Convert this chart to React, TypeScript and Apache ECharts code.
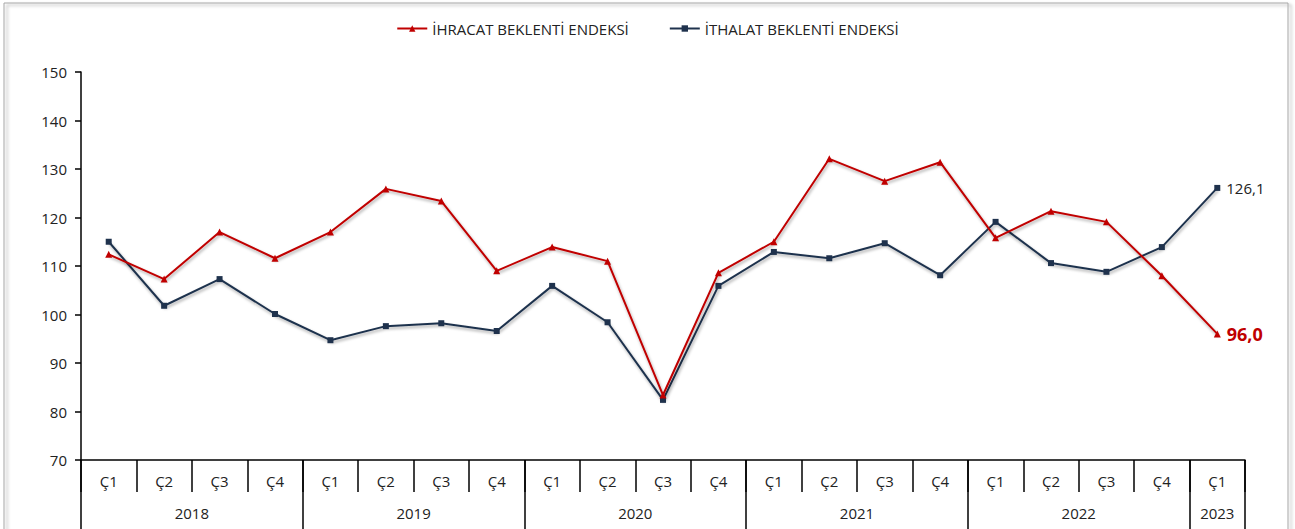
import React, { useEffect, useRef } from "react";
import * as echarts from "echarts";

const quarters = [
  "Ç1", "Ç2", "Ç3", "Ç4",
  "Ç1", "Ç2", "Ç3", "Ç4",
  "Ç1", "Ç2", "Ç3", "Ç4",
  "Ç1", "Ç2", "Ç3", "Ç4",
  "Ç1", "Ç2", "Ç3", "Ç4",
  "Ç1",
];
const years = ["2018", "2019", "2020", "2021", "2022", "2023"];
const quartersPerYear = [4, 4, 4, 4, 4, 1];

const exportValues = [
  112.4, 107.3, 117.0, 111.6,
  117.0, 125.9, 123.4, 109.0,
  113.9, 111.0, 83.4, 108.6,
  115.0, 132.1, 127.5, 131.4,
  115.8, 121.3, 119.1, 108.0,
  96.0,
];
const importValues = [
  115.0, 101.8, 107.3, 100.1,
  94.7, 97.6, 98.2, 96.6,
  105.9, 98.4, 82.4, 105.9,
  112.9, 111.6, 114.7, 108.1,
  119.1, 110.6, 108.8, 113.9,
  126.1,
];

const exportName = "İHRACAT BEKLENTİ ENDEKSİ";
const importName = "İTHALAT BEKLENTİ ENDEKSİ";

const RED = "#c00000";
const NAVY = "#1f324d";
const FONT = "Open Sans";

function fmt(v: number) {
  return v.toFixed(1).replace(".", ",");
}

export default function App() {
  const ref = useRef<HTMLDivElement>(null);
  useEffect(() => {
    if (!ref.current) return;
    const chart = echarts.init(ref.current, undefined, { renderer: "svg" });

    // year boundaries and centers derived from group sizes
    const boundaries: number[] = [0];
    const centers: number[] = [];
    let acc = 0;
    quartersPerYear.forEach((n) => {
      centers.push(acc + n / 2);
      acc += n;
      boundaries.push(acc);
    });

    const lastIdx = exportValues.length - 1;
    const mkData = (vals: number[], label: any) =>
      vals.map((v, i) =>
        i === lastIdx ? { value: v, label: { show: true, ...label } } : v
      );

    const lineShadow = {
      shadowColor: "rgba(0,0,0,0.35)",
      shadowBlur: 3,
      shadowOffsetX: 1,
      shadowOffsetY: 2,
    };

    chart.setOption({
      animation: false,
      backgroundColor: "#ffffff",
      textStyle: { fontFamily: FONT },
      graphic: [
        {
          type: "rect",
          shape: { x: 4, y: 3, width: 1284, height: 560 },
          style: {
            fill: "none",
            stroke: "#a6a6a6",
            lineWidth: 1,
            shadowColor: "rgba(0,0,0,0.35)",
            shadowBlur: 3,
            shadowOffsetX: 3,
            shadowOffsetY: 2,
          },
          silent: true,
          z: -1,
        },
      ],
      legend: {
        top: 16,
        left: "center",
        itemWidth: 30,
        itemHeight: 8,
        itemGap: 40,
        textStyle: { fontFamily: FONT, fontSize: 15, color: "#222" },
        data: [exportName, importName],
      },
      grid: { left: 81, right: 50, top: 72, bottom: 69 },
      xAxis: [
        {
          type: "category",
          data: quarters,
          boundaryGap: true,
          position: "bottom",
          axisLine: { show: true, lineStyle: { color: "#000", width: 1.5 } },
          axisTick: {
            show: true,
            interval: 0,
            length: 32,
            lineStyle: { color: "#000", width: 1.5 },
          },
          axisLabel: {
            interval: 0,
            margin: 13,
            fontFamily: FONT,
            fontSize: 15,
            color: "#222",
          },
          splitLine: { show: false },
        },
        {
          type: "value",
          min: 0,
          max: quarters.length,
          position: "bottom",
          offset: 0,
          axisLine: { show: false },
          axisTick: {
            show: true,
            customValues: boundaries,
            length: 70,
            lineStyle: { color: "#000", width: 1.5 },
          },
          axisLabel: {
            show: true,
            customValues: centers,
            margin: 45,
            fontFamily: FONT,
            fontSize: 15,
            color: "#222",
            formatter: (v: number) => {
              const i = centers.findIndex((c) => Math.abs(c - v) < 1e-6);
              return i >= 0 ? years[i] : "";
            },
          },
          splitLine: { show: false },
        },
      ],
      yAxis: {
        type: "value",
        min: 70,
        max: 150,
        interval: 10,
        axisLine: { show: true, lineStyle: { color: "#000", width: 1.5 } },
        axisTick: { show: true, length: 6, lineStyle: { color: "#000", width: 1.5 } },
        axisLabel: {
          margin: 14,
          fontFamily: FONT,
          fontSize: 15,
          color: "#222",
        },
        splitLine: { show: false },
      },
      series: [
        {
          name: exportName,
          type: "line",
          xAxisIndex: 0,
          data: mkData(exportValues, {
            position: "right",
            distance: 6,
            formatter: (p: any) => fmt(p.value),
            color: RED,
            fontWeight: "bold",
            fontSize: 18,
            fontFamily: FONT,
          }),
          symbol: "triangle",
          symbolSize: 7,
          showAllSymbol: true,
          itemStyle: { color: RED },
          lineStyle: { color: RED, width: 2, ...lineShadow },
          z: 3,
        },
        {
          name: importName,
          type: "line",
          xAxisIndex: 0,
          data: mkData(importValues, {
            position: "right",
            distance: 6,
            formatter: (p: any) => fmt(p.value),
            color: "#222",
            fontSize: 15,
            fontFamily: FONT,
          }),
          symbol: "rect",
          symbolSize: 6,
          showAllSymbol: true,
          itemStyle: { color: NAVY },
          lineStyle: { color: NAVY, width: 2, ...lineShadow },
          z: 2,
        },
      ],
    });
    return () => chart.dispose();
  }, []);
  return (
    <div
      ref={ref}
      style={{ position: "fixed", left: 0, top: 0, width: 1295, height: 529, background: "#fff" }}
    />
  );
}
